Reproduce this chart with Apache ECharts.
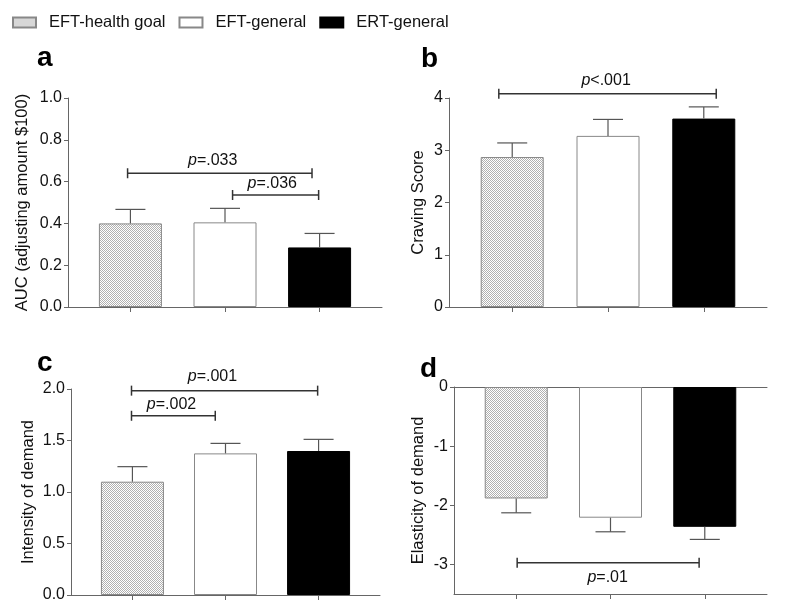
<!DOCTYPE html>
<html><head><meta charset="utf-8">
<script src="https://cdn.jsdelivr.net/npm/echarts@6/dist/echarts.min.js"></script>
<style>html,body{margin:0;padding:0;background:#fff}#c{width:800px;height:611px}</style>
</head><body><div id="c"></div>
<script>
// ---- data ----
const groups = ['EFT-health goal', 'EFT-general', 'ERT-general'];
const groupX = [1, 2, 3];

const aucMean = [0.400, 0.405, 0.285];
const aucSem = [0.067, 0.067, 0.067];
const cravingMean = [2.87, 3.275, 3.606];
const cravingSem = [0.27, 0.315, 0.224];
const intensityMean = [1.10, 1.375, 1.398];
const intensitySem = [0.146, 0.097, 0.113];
const elasticityMean = [-1.885, -2.21, -2.364];
const elasticitySem = [0.242, 0.238, 0.213];

const aucTicks = [0, 0.2, 0.4, 0.6, 0.8, 1.0];
const cravingTicks = [0, 1, 2, 3, 4];
const intensityTicks = [0, 0.5, 1.0, 1.5, 2.0];
const elasticityTicks = [0, -1, -2, -3];

// brackets: [fromX, toX, y, labelX, labelY], labels separately
const aucBrackets = [[0.97, 2.92, 0.64, 1.87, 0.699], [2.08, 2.99, 0.536, 2.50, 0.592]];
const aucBracketLabels = ['=.033', '=.036'];
const cravingBrackets = [[0.86, 3.13, 4.08, 1.98, 4.34]];
const cravingBracketLabels = ['<.001'];
const intensityBrackets = [[0.99, 2.99, 1.984, 1.86, 2.12], [0.99, 1.89, 1.74, 1.42, 1.845]];
const intensityBracketLabels = ['=.001', '=.002'];
const elasticityBrackets = [[1.01, 2.94, -2.97, 1.97, -3.225]];
const elasticityBracketLabels = ['=.01'];

// ---- styles ----
const FONT = 'Liberation Sans, Arial, Helvetica, sans-serif';
function makePattern() {
  const c = document.createElement('canvas');
  c.width = 2; c.height = 2;
  const g = c.getContext('2d');
  g.fillStyle = '#ffffff'; g.fillRect(0, 0, 2, 2);
  g.fillStyle = '#b0b0b0'; g.fillRect(0, 0, 1, 1); g.fillRect(1, 1, 1, 1);
  return c;
}
const pat = makePattern();
const groupStyles = [
  { color: { image: pat, repeat: 'repeat' }, borderColor: '#888', borderWidth: 1 },
  { color: '#ffffff', borderColor: '#888', borderWidth: 1 },
  { color: '#000000', borderColor: '#000', borderWidth: 1 }
];

const grids = [
  { left: 68, top: 98, width: 314, height: 209 },
  { left: 449, top: 98, width: 318, height: 209 },
  { left: 71, top: 389, width: 309, height: 206 },
  { left: 454, top: 387, width: 313, height: 207 }
];

const axisColor = '#666';
function xAxisFor(gi) {
  return {
    type: 'value', gridIndex: gi, min: 0.34, max: 3.66,
    position: 'bottom',
    axisLine: { show: true, onZero: false, lineStyle: { color: axisColor, width: 1 } },
    axisTick: { show: true, length: 5, customValues: groupX, lineStyle: { color: axisColor } },
    axisLabel: { show: false },
    splitLine: { show: false }
  };
}
function yAxisFor(gi, name, min, max, ticks, gap, dec) {
  return {
    type: 'value', gridIndex: gi, min: min, max: max,
    name: name, nameLocation: 'middle', nameGap: gap,
    nameTextStyle: { fontFamily: FONT, fontSize: 16.5, color: '#111' },
    axisLine: { show: true, lineStyle: { color: axisColor, width: 1 } },
    axisTick: { show: true, length: 4, customValues: ticks, lineStyle: { color: axisColor } },
    axisLabel: {
      customValues: ticks, margin: 6, fontFamily: FONT, fontSize: 16, color: '#111',
      formatter: v => dec ? Number(v).toFixed(dec) : String(v)
    },
    splitLine: { show: false }
  };
}

const xAxes = [xAxisFor(0), xAxisFor(1), xAxisFor(2), xAxisFor(3),
  { type: 'value', gridIndex: 3, min: 0.34, max: 3.66, position: 'top',
    axisLine: { show: true, onZero: false, lineStyle: { color: axisColor, width: 1 } },
    axisTick: { show: false }, axisLabel: { show: false }, splitLine: { show: false } }];
const yAxes = [
  yAxisFor(0, 'AUC (adjusting amount $100)', 0, 1, aucTicks, 37, 1),
  yAxisFor(1, 'Craving Score', 0, 4, cravingTicks, 22, 0),
  yAxisFor(2, 'Intensity of demand', 0, 2, intensityTicks, 34, 1),
  yAxisFor(3, 'Elasticity of demand', -3.5, 0, elasticityTicks, 27, 0)
];

const panels = [
  { mean: aucMean, sem: aucSem, br: aucBrackets, brl: aucBracketLabels },
  { mean: cravingMean, sem: cravingSem, br: cravingBrackets, brl: cravingBracketLabels },
  { mean: intensityMean, sem: intensitySem, br: intensityBrackets, brl: intensityBracketLabels },
  { mean: elasticityMean, sem: elasticitySem, br: elasticityBrackets, brl: elasticityBracketLabels }
];

const series = [];
panels.forEach((p, pi) => {
  groups.forEach((g, gi) => {
    series.push({
      type: 'bar', name: g, xAxisIndex: pi, yAxisIndex: pi,
      barWidth: 63, barGap: '-100%',
      itemStyle: groupStyles[gi],
      emphasis: { disabled: true },
      data: [[groupX[gi], p.mean[gi]]],
      z: 2
    });
  });
  series.push({
    type: 'custom', xAxisIndex: pi, yAxisIndex: pi, z: 3, silent: true,
    data: groupX.map((x, i) => [x, p.mean[i], p.sem[i]]),
    renderItem: function (params, api) {
      const x = api.value(0), m = api.value(1), e = api.value(2);
      const dir = m < 0 ? -1 : 1;
      const p0 = api.coord([x, m]);
      const p1 = api.coord([x, m + dir * e]);
      const hw = 15;
      const st = { stroke: '#555', lineWidth: 1.2 };
      return { type: 'group', children: [
        { type: 'line', shape: { x1: p0[0], y1: p0[1], x2: p1[0], y2: p1[1] }, style: st },
        { type: 'line', shape: { x1: p1[0] - hw, y1: p1[1], x2: p1[0] + hw, y2: p1[1] }, style: st }
      ] };
    }
  });
  series.push({
    type: 'custom', xAxisIndex: pi, yAxisIndex: pi, z: 4, silent: true,
    data: p.br,
    renderItem: function (params, api) {
      const a = api.coord([api.value(0), api.value(2)]);
      const b = api.coord([api.value(1), api.value(2)]);
      const t = api.coord([api.value(3), api.value(4)]);
      const st = { stroke: '#333', lineWidth: 1.5 };
      const lab = p.brl[params.dataIndex];
      return { type: 'group', children: [
        { type: 'line', shape: { x1: a[0], y1: a[1], x2: b[0], y2: b[1] }, style: st },
        { type: 'line', shape: { x1: a[0], y1: a[1] - 5, x2: a[0], y2: a[1] + 5 }, style: st },
        { type: 'line', shape: { x1: b[0], y1: b[1] - 5, x2: b[0], y2: b[1] + 5 }, style: st },
        { type: 'text', x: t[0], y: t[1], style: {
            text: '{i|p}{n|' + lab + '}', align: 'center', verticalAlign: 'middle',
            rich: {
              i: { fontStyle: 'italic', fontFamily: FONT, fontSize: 16, fill: '#111' },
              n: { fontFamily: FONT, fontSize: 16, fill: '#111' }
            }
          } }
      ] };
    }
  });
});

const letters = [['a', 37, 44], ['b', 421, 45], ['c', 37, 349], ['d', 420, 355]];
const graphics = letters.map(l => ({
  type: 'text', left: l[1], top: l[2],
  style: { text: l[0], font: 'bold 28px ' + FONT, fill: '#000' }
}));

const chart = echarts.init(document.getElementById('c'), null, { renderer: 'canvas' });
chart.setOption({
  animation: false,
  backgroundColor: '#fff',
  legend: {
    data: groups, left: 7, top: 9, itemWidth: 23, itemHeight: 10, itemGap: 13,
    icon: 'rect',
    textStyle: { fontFamily: FONT, fontSize: 16.5, color: '#111', padding: [0, 0, 0, 8] }
  },
  grid: grids,
  xAxis: xAxes,
  yAxis: yAxes,
  series: series,
  graphic: graphics
});
</script>
</body></html>
